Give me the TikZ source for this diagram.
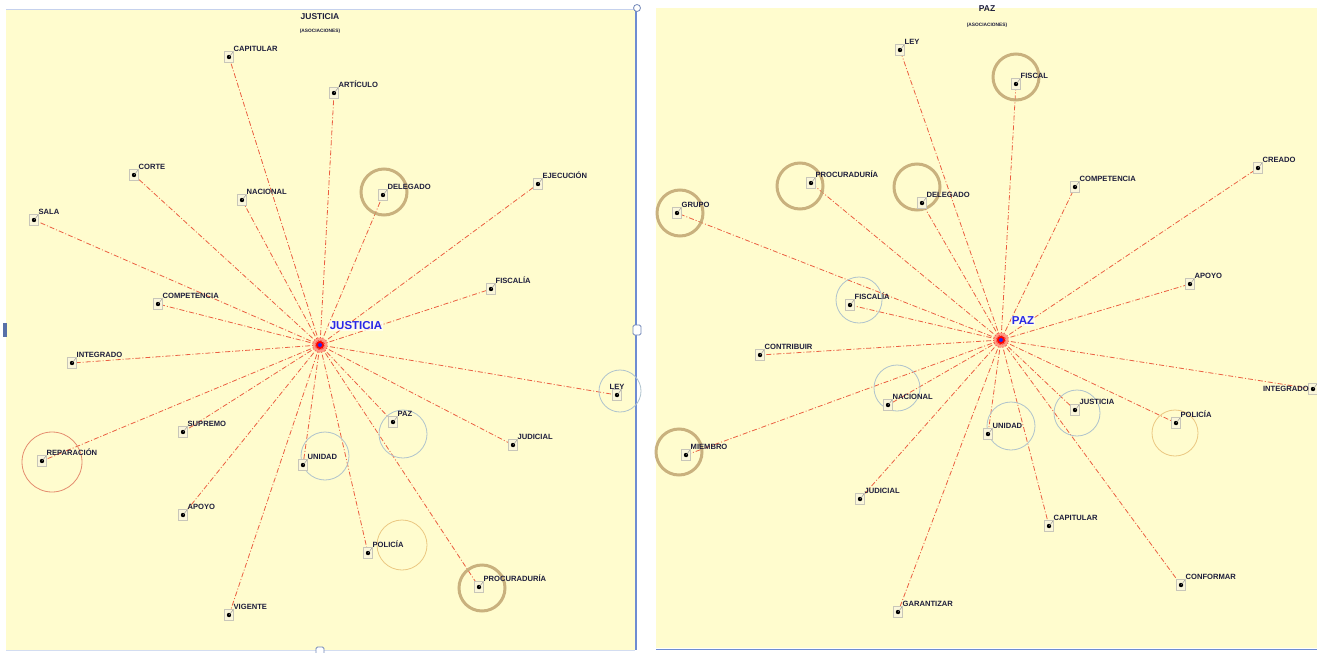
\documentclass[tikz,border=0pt]{standalone}
\usepackage{fontspec}
\setmainfont{Liberation Sans}
\definecolor{panelyellow}{RGB}{255,252,206}
\definecolor{edgered}{RGB}{235,95,65}
\definecolor{boxgray}{RGB}{200,198,185}
\definecolor{boxfill}{RGB}{250,246,218}
\definecolor{lblnavy}{RGB}{30,30,60}
\definecolor{tan}{RGB}{192,165,112}
\definecolor{thinblue}{RGB}{175,195,205}
\definecolor{thinred}{RGB}{228,140,110}
\definecolor{thinyel}{RGB}{235,200,130}
\definecolor{hubblue}{RGB}{40,40,230}
\definecolor{frameblue}{RGB}{110,140,210}
\pgfdeclarelayer{panel}
\pgfdeclarelayer{bg}
\pgfsetlayers{panel,bg,main}
\tikzset{
  edge/.style={draw=edgered, line width=0.8pt, dash pattern=on 5pt off 2pt on 1pt off 2pt},
  term/.style={draw=boxgray, line width=0.4pt, fill=boxfill, minimum width=9pt, minimum height=11pt, inner sep=0pt,
    path picture={\fill[black] (path picture bounding box.center) circle (2.2pt);
      \draw[black!45,line width=0.4pt] (path picture bounding box.center) -- (path picture bounding box.north east);}},
  lbl/.style={font=\bfseries\fontsize{7.6}{8}\selectfont, text=lblnavy, inner sep=0.4pt, label distance=-1pt},
  hubhalo/.style={circle, fill=red!75, opacity=0.5, minimum size=15pt, inner sep=0pt},
  hubnode/.style={circle, fill=red, minimum size=8pt, inner sep=0pt,
    path picture={\fill[hubblue] (path picture bounding box.center) circle (2pt);}},
  hublbl/.style={font=\bfseries\fontsize{11.5}{12}\selectfont, text=hubblue, fill=white, fill opacity=0.6, text opacity=1, inner sep=1.2pt},
  title/.style={font=\bfseries\fontsize{8.5}{9}\selectfont, text=lblnavy},
  subtitle/.style={font=\bfseries\fontsize{4.8}{5}\selectfont, text=lblnavy},
  thickring/.style={draw=tan, line width=3pt, opacity=0.85},
  thinring/.style={draw=#1, line width=0.8pt},
  handle/.style={draw=frameblue!70!gray, fill=white, rounded corners=1.5pt, line width=0.8pt, minimum width=8pt, minimum height=10pt, inner sep=0pt}
}
\newcommand{\tnode}[5]{\node[term, label={[lbl]#4:#5}] (#1) at (#2,#3) {};}
\begin{document}
\begin{tikzpicture}[x=1pt,y=-1pt]
\useasboundingbox (0,0) rectangle (1317,653);
\begin{pgfonlayer}{panel}
  \fill[white] (0,0) rectangle (1317,653);
  \fill[panelyellow] (6,9) rectangle (635,650);
  \draw[frameblue!40, line width=0.8pt] (6,9) -- (635,9);
  \draw[frameblue!30, line width=0.6pt] (6,650) -- (635,650);
  \draw[frameblue, line width=2pt] (636,8) -- (636,650);
  \fill[frameblue!80!black] (3,323) rectangle (7,337);
  \fill[panelyellow] (656,8) rectangle (1317,648);
  \draw[frameblue, line width=1.6pt] (656,649.5) -- (1317,649.5);
\end{pgfonlayer}
\node[handle] (hr) at (637,330) {};
\node[handle] (hb) at (320,652) {};
\node[circle, draw=frameblue!70!gray, fill=white, line width=0.8pt, minimum size=7pt, inner sep=0pt] (hc) at (637,8) {};

% ---------- LEFT: JUSTICIA ----------
\node[title] (jt) at (320,17) {JUSTICIA};
\node[subtitle] (js) at (320,31) {(ASOCIACIONES)};
\node[hubhalo] (jhh) at (320,345) {};
\node[hubnode] (jh) at (320,345) {};
\node[hublbl] (jhl) at (356,326) {JUSTICIA};

\tnode{jCAP}{229}{57}{north east}{CAPITULAR}
\tnode{jART}{334}{93}{north east}{ARTÍCULO}
\tnode{jCOR}{134}{175}{north east}{CORTE}
\tnode{jNAC}{242}{200}{north east}{NACIONAL}
\tnode{jDEL}{383}{195}{north east}{DELEGADO}
\tnode{jEJE}{538}{184}{north east}{EJECUCIÓN}
\tnode{jSAL}{34}{220}{north east}{SALA}
\tnode{jFIS}{491}{289}{north east}{FISCALÍA}
\tnode{jCOM}{158}{304}{north east}{COMPETENCIA}
\tnode{jINT}{72}{363}{north east}{INTEGRADO}
\tnode{jLEY}{617}{395}{north}{LEY}
\tnode{jSUP}{183}{432}{north east}{SUPREMO}
\tnode{jPAZ}{393}{422}{north east}{PAZ}
\tnode{jJUD}{513}{445}{north east}{JUDICIAL}
\tnode{jREP}{42}{461}{north east}{REPARACIÓN}
\tnode{jUNI}{303}{465}{north east}{UNIDAD}
\tnode{jAPO}{183}{515}{north east}{APOYO}
\tnode{jPOL}{368}{553}{north east}{POLICÍA}
\tnode{jPRO}{479}{587}{north east}{PROCURADURÍA}
\tnode{jVIG}{229}{615}{north east}{VIGENTE}

\begin{pgfonlayer}{bg}
\foreach \n in {jCAP,jART,jCOR,jNAC,jDEL,jEJE,jSAL,jFIS,jCOM,jINT,jLEY,jSUP,jPAZ,jJUD,jREP,jUNI,jAPO,jPOL,jPRO,jVIG}
  \draw[edge] (jh.center) -- (\n.center);
\draw[thickring] (384,192) circle (23);
\draw[thickring] (482,588) circle (23);
\draw[thinring=thinblue] (620,391) circle (21);
\draw[thinring=thinblue] (403,434) circle (24);
\draw[thinring=thinblue] (325,456) circle (24);
\draw[thinring=thinred] (52,462) circle (30);
\draw[thinring=thinyel] (402,545) circle (25);
\end{pgfonlayer}

% ---------- RIGHT: PAZ ----------
\node[title] (pt) at (987,9) {PAZ};
\node[subtitle] (ps) at (987,25) {(ASOCIACIONES)};
\node[hubhalo] (phh) at (1001,340) {};
\node[hubnode] (ph) at (1001,340) {};
\node[hublbl] (phl) at (1023,321) {PAZ};

\tnode{pLEY}{900}{50}{north east}{LEY}
\tnode{pFIS}{1016}{84}{north east}{FISCAL}
\tnode{pCRE}{1258}{168}{north east}{CREADO}
\tnode{pPRO}{811}{183}{north east}{PROCURADURÍA}
\tnode{pDEL}{922}{203}{north east}{DELEGADO}
\tnode{pCOM}{1075}{187}{north east}{COMPETENCIA}
\tnode{pGRU}{677}{213}{north east}{GRUPO}
\tnode{pAPO}{1190}{284}{north east}{APOYO}
\tnode{pFSC}{850}{305}{north east}{FISCALÍA}
\tnode{pCON}{760}{355}{north east}{CONTRIBUIR}
\tnode{pINT}{1313}{389}{west}{INTEGRADO}
\tnode{pNAC}{888}{405}{north east}{NACIONAL}
\tnode{pJUS}{1075}{410}{north east}{JUSTICIA}
\tnode{pPOL}{1176}{423}{north east}{POLICÍA}
\tnode{pUNI}{988}{434}{north east}{UNIDAD}
\tnode{pMIE}{686}{455}{north east}{MIEMBRO}
\tnode{pJUD}{860}{499}{north east}{JUDICIAL}
\tnode{pCAP}{1049}{526}{north east}{CAPITULAR}
\tnode{pCNF}{1181}{585}{north east}{CONFORMAR}
\tnode{pGAR}{898}{612}{north east}{GARANTIZAR}

\begin{pgfonlayer}{bg}
\foreach \n in {pLEY,pFIS,pCRE,pPRO,pDEL,pCOM,pGRU,pAPO,pFSC,pCON,pINT,pNAC,pJUS,pPOL,pUNI,pMIE,pJUD,pCAP,pCNF,pGAR}
  \draw[edge] (ph.center) -- (\n.center);
\draw[thickring] (1016,77) circle (23);
\draw[thickring] (800,186) circle (23);
\draw[thickring] (917,187) circle (23);
\draw[thickring] (680,213) circle (23);
\draw[thickring] (679,452) circle (23);
\draw[thinring=thinblue] (859,300) circle (23);
\draw[thinring=thinblue] (897,388) circle (23);
\draw[thinring=thinblue] (1077,413) circle (23);
\draw[thinring=thinblue] (1011,426) circle (24);
\draw[thinring=thinyel] (1175,433) circle (23);
\end{pgfonlayer}
\end{tikzpicture}
\end{document}
